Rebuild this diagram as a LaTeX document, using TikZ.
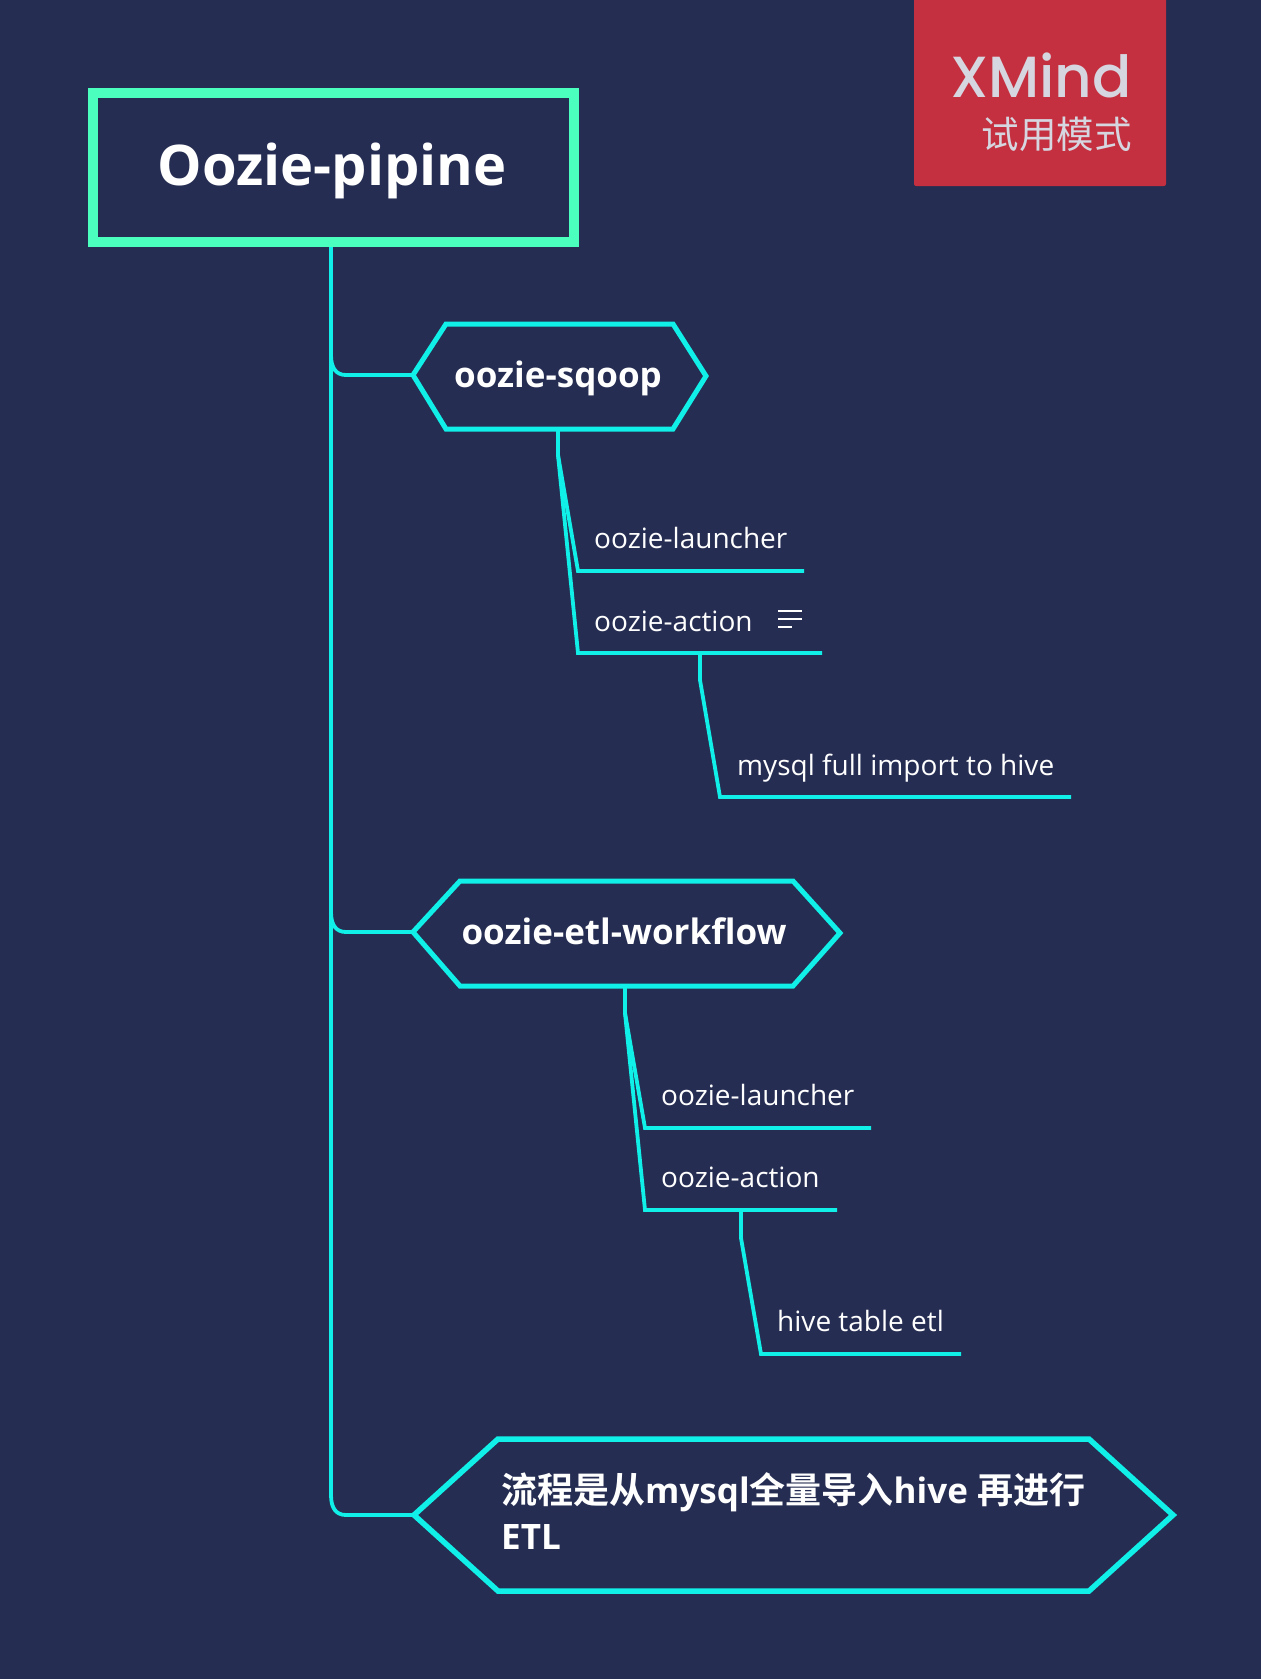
\documentclass[tikz,border=0pt]{standalone}
\usepackage{fontspec}
\setmainfont{Open Sans}
\newfontfamily\cjk{Noto Sans CJK SC}
\newfontfamily\cjkb[BoldFont={Noto Sans CJK SC Bold}]{Noto Sans CJK SC}
\newfontfamily\wmf[UprightFont={* Medium}]{Poppins}
\definecolor{bgc}{HTML}{252D52}
\definecolor{rootc}{HTML}{4BFFBE}
\definecolor{linec}{HTML}{10F0E8}
\definecolor{wmc}{HTML}{C53040}
\definecolor{wmt}{HTML}{D5D6DF}
\tikzset{
 x=1pt,y=-1pt,
 conn/.style={draw=linec,line width=3.8pt,line join=miter},
 hex/.style={draw=linec,line join=miter,fill=bgc},
 subt/.style={anchor=base west,inner sep=0pt,text=white,font=\fontsize{28}{28}\selectfont},
 maint/.style={anchor=base,inner sep=0pt,text=white,font=\bfseries\fontsize{35}{35}\selectfont},
}
\begin{document}
\begin{tikzpicture}
\useasboundingbox (0,0) rectangle (1261,1679);
\fill[bgc] (0,0) rectangle (1261,1679);
% watermark
\fill[wmc,rounded corners=2pt] (914,-10) rectangle (1166,186);
\node[anchor=base east,inner sep=0pt,text=wmt,font=\wmf\fontsize{58}{58}\selectfont] (wm1) at (1132,97) {XMind};
\node[anchor=base east,inner sep=0pt,text=wmt,font=\cjk\fontsize{37.5}{37.5}\selectfont] (wm2) at (1132,148) {试用模式};
% coordinates
\coordinate (h1l) at (413,375);
\coordinate (h2l) at (413,932);
\coordinate (h3l) at (414,1515);
\coordinate (rb) at (331,247);
\coordinate (t1) at (331,355);
\coordinate (t1a) at (346,375);
\coordinate (t2) at (331,912);
\coordinate (t2a) at (346,932);
\coordinate (t3) at (331,1495);
\coordinate (t3a) at (346,1515);
% trunk
\draw[conn] (rb) -- (t3) .. controls (331,1508) and (336,1515) .. (t3a) -- (h3l);
\draw[conn] (t1) .. controls (331,368) and (336,375) .. (t1a) -- (h1l);
\draw[conn] (t2) .. controls (331,925) and (336,932) .. (t2a) -- (h2l);
% root
\node[draw=rootc,line width=10pt,minimum width=481pt,minimum height=149pt,inner sep=0pt,fill=bgc] (root) at (333.5,167.5) {};
\node[anchor=base,inner sep=0pt,text=white,font=\bfseries\fontsize{56}{56}\selectfont] (roottext) at (332,185) {Oozie-pipine};
% group 1
\coordinate (d1) at (558,429);
\coordinate (d1b) at (558,455);
\coordinate (l1a) at (578,571);
\coordinate (l1b) at (804,571);
\coordinate (l2a) at (578,653);
\coordinate (l2b) at (822,653);
\coordinate (d2) at (700,653);
\coordinate (d2b) at (700,680);
\coordinate (l3a) at (720,797);
\coordinate (l3b) at (1071,797);
\draw[conn] (d1) -- (d1b) -- (l1a) -- (l1b);
\draw[conn] (d1b) -- (l2a) -- (l2b);
\draw[conn] (d2) -- (d2b) -- (l3a) -- (l3b);
\draw[hex,line width=5pt] (h1l) -- (446,324) -- (673,324) -- (706,376) -- (673,429) -- (446,429) -- cycle;
\node[maint] (sqoop) at (558,387) {oozie-sqoop};
\node[subt] (launch1) at (594,548) {oozie-launcher};
\node[subt] (action1) at (594,631) {oozie-action};
\node[subt] (mysql) at (737,775) {mysql full import to hive};
\coordinate (i1a) at (778,611); \coordinate (i1b) at (802,611);
\coordinate (i2a) at (778,619); \coordinate (i2b) at (802,619);
\coordinate (i3a) at (778,627); \coordinate (i3b) at (792,627);
\draw[white,line width=2.6pt] (i1a) -- (i1b) (i2a) -- (i2b) (i3a) -- (i3b);
% group 2
\coordinate (e1) at (625,986);
\coordinate (e1b) at (625,1013);
\coordinate (m1a) at (645,1128);
\coordinate (m1b) at (871,1128);
\coordinate (m2a) at (645,1210);
\coordinate (m2b) at (837,1210);
\coordinate (e2) at (741,1210);
\coordinate (e2b) at (741,1238);
\coordinate (m3a) at (761,1354);
\coordinate (m3b) at (961,1354);
\draw[conn] (e1) -- (e1b) -- (m1a) -- (m1b);
\draw[conn] (e1b) -- (m2a) -- (m2b);
\draw[conn] (e2) -- (e2b) -- (m3a) -- (m3b);
\draw[hex,line width=5pt] (h2l) -- (460,881) -- (793,881) -- (840,933) -- (793,986) -- (460,986) -- cycle;
\node[maint] (etl) at (624,944) {oozie-etl-workflow};
\node[subt] (launch2) at (661,1105) {oozie-launcher};
\node[subt] (action2) at (661,1187) {oozie-action};
\node[subt] (hive) at (777,1331) {hive table etl};
% group 3
\draw[hex,line width=5.5pt] (h3l) -- (498,1439) -- (1089,1439) -- (1173,1515) -- (1089,1591) -- (498,1591) -- cycle;
\node[anchor=base west,inner sep=0pt,text=white,font=\bfseries\fontsize{35}{35}\selectfont] (flow1) at (501,1503) {{\cjkb\bfseries\fontsize{36}{36}\selectfont 流程是从}mysql{\cjkb\bfseries\fontsize{36}{36}\selectfont 全量导入}hive {\cjkb\bfseries\fontsize{36}{36}\selectfont 再进行}};
\node[anchor=base west,inner sep=0pt,text=white,font=\bfseries\fontsize{35}{35}\selectfont] (flow2) at (501,1549) {ETL};
\end{tikzpicture}
\end{document}
